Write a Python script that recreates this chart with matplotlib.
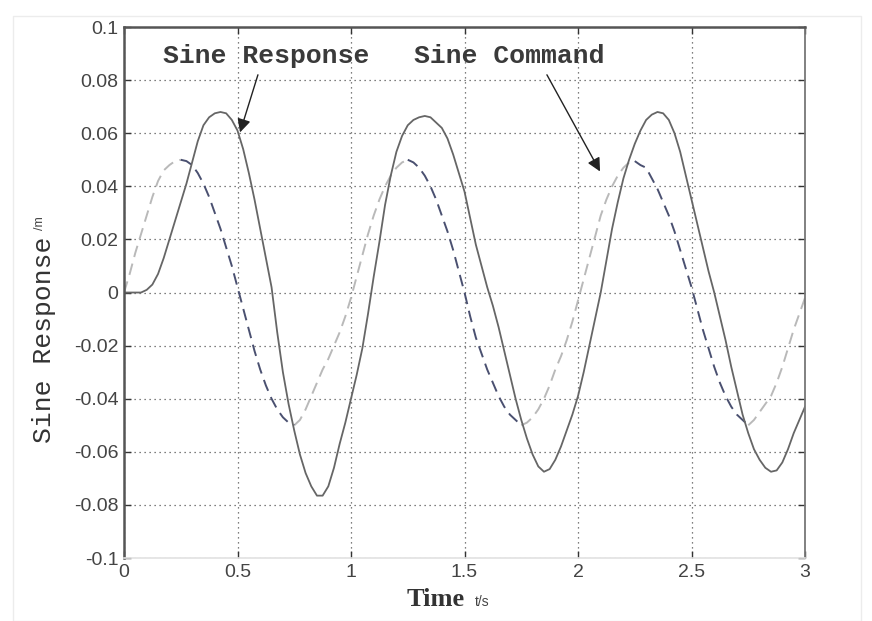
import matplotlib.pyplot as plt
from matplotlib.patches import Rectangle
import numpy as np

# time grid, 0.025 s steps
t = np.linspace(0, 3, 121)

response = [0.0, 0.0, 0.0, 0.0, 0.001, 0.003, 0.007, 0.013, 0.020, 0.027,
            0.034, 0.041, 0.049, 0.057, 0.063, 0.066, 0.0675, 0.068, 0.0675, 0.065,
            0.061, 0.054, 0.045, 0.035, 0.024, 0.013, 0.002, -0.015, -0.030, -0.042,
            -0.052, -0.061, -0.068, -0.073, -0.0765, -0.0765, -0.073, -0.066, -0.057, -0.049,
            -0.040, -0.031, -0.021, -0.008, 0.006, 0.019, 0.033, 0.044, 0.053, 0.059,
            0.063, 0.065, 0.066, 0.0665, 0.066, 0.064, 0.062, 0.058, 0.052, 0.045,
            0.038, 0.028, 0.018, 0.010, 0.002, -0.005, -0.013, -0.022, -0.031, -0.040,
            -0.048, -0.055, -0.061, -0.0655, -0.0675, -0.0665, -0.063, -0.058, -0.052, -0.046,
            -0.039, -0.030, -0.020, -0.010, 0.0, 0.012, 0.024, 0.034, 0.043, 0.050,
            0.056, 0.061, 0.065, 0.067, 0.068, 0.0675, 0.065, 0.060, 0.053, 0.044,
            0.035, 0.026, 0.017, 0.008, 0.0, -0.009, -0.018, -0.028, -0.037, -0.046,
            -0.053, -0.059, -0.063, -0.066, -0.0675, -0.067, -0.064, -0.059, -0.053, -0.048,
            -0.043]

command = [0.0, 0.007, 0.015, 0.022, 0.029, 0.036, 0.042, 0.046, 0.048, 0.0495,
           0.050, 0.0495, 0.048, 0.045, 0.041, 0.036, 0.030, 0.024, 0.017, 0.010,
           0.002, -0.006, -0.014, -0.022, -0.029, -0.035, -0.040, -0.044, -0.047, -0.049,
           -0.050, -0.048, -0.044, -0.039, -0.034, -0.029, -0.025, -0.020, -0.015, -0.009,
           -0.002, 0.006, 0.014, 0.022, 0.029, 0.035, 0.040, 0.044, 0.047, 0.049,
           0.050, 0.049, 0.047, 0.044, 0.040, 0.035, 0.029, 0.023, 0.016, 0.008,
           0.0, -0.009, -0.017, -0.023, -0.029, -0.034, -0.039, -0.043, -0.046, -0.048,
           -0.050, -0.049, -0.047, -0.044, -0.040, -0.035, -0.029, -0.024, -0.018, -0.011,
           -0.003, 0.005, 0.013, 0.021, 0.029, 0.035, 0.040, 0.044, 0.047, 0.049,
           0.0495, 0.048, 0.047, 0.043, 0.039, 0.034, 0.029, 0.023, 0.016, 0.009,
           0.002, -0.006, -0.014, -0.021, -0.028, -0.034, -0.039, -0.043, -0.046, -0.048,
           -0.050, -0.048, -0.045, -0.042, -0.039, -0.034, -0.028, -0.021, -0.014, -0.008,
           -0.002]

xticks = [0, 0.5, 1, 1.5, 2, 2.5, 3]
xticklabels = ['0', '0.5', '1', '1.5', '2', '2.5', '3']
yticks = [-0.1, -0.08, -0.06, -0.04, -0.02, 0, 0.02, 0.04, 0.06, 0.08, 0.1]
yticklabels = ['-0.1', '-0.08', '-0.06', '-0.04', '-0.02', '0', '0.02', '0.04', '0.06', '0.08', '0.1']

tick_font = ['Liberation Sans', 'DejaVu Sans']
mono = ['Liberation Mono', 'DejaVu Sans Mono']

fig = plt.figure(figsize=(8.72, 6.21), dpi=100)
fig.patches.append(Rectangle((0.015, 0.0), 0.972, 0.975, transform=fig.transFigure,
                             fill=False, edgecolor='#ececec', lw=1))
ax = fig.add_axes([0.1422, 0.1014, 0.781, 0.8551])

# command: light dashes on the rising parts, dark on the falling parts
cmd = np.array(command)
rising = np.diff(cmd) > 0
light_mask = np.r_[rising, False] | np.r_[False, rising]
dark_mask = np.r_[~rising, False] | np.r_[False, ~rising]
ax.plot(t, np.where(light_mask, cmd, np.nan), color='#b9b9b9', lw=1.4, dashes=(6, 3.5))
ax.plot(t, np.where(dark_mask, cmd, np.nan), color='#4a5070', lw=1.4, dashes=(6, 3.5))
ax.plot(t, response, color='#666666', lw=1.3)

ax.set_xlim(0, 3)
ax.set_ylim(-0.1, 0.1)
ax.set_xticks(xticks)
ax.set_xticklabels(xticklabels, family=tick_font, fontsize=14, color='#444444')
ax.set_yticks(yticks)
ax.set_yticklabels(yticklabels, family=tick_font, fontsize=14, color='#444444')
ax.tick_params(direction='in', top=True, right=True, length=5, width=1, color='#333333', pad=4)

ax.grid(True, linestyle=(0, (1, 3)), color='#555555', lw=0.9)

for side in ['left', 'top']:
    ax.spines[side].set_color('#555555')
    ax.spines[side].set_linewidth(1.8)
ax.spines['right'].set_color('#777777')
ax.spines['right'].set_linewidth(1.3)
ax.spines['bottom'].set_color('#e2e2e2')
ax.spines['bottom'].set_linewidth(1.2)

# axis labels (main word + small unit)
fig.text(0.050, 0.4525, 'Sine Response', rotation=90, family=mono, fontsize=19,
         ha='center', va='center', color='#333333')
fig.text(0.046, 0.641, '/m', rotation=90, family=tick_font, fontsize=9,
         ha='center', va='center', color='#444444')
fig.text(0.499, 0.035, 'Time', family=['Liberation Serif', 'DejaVu Serif'], fontsize=19,
         fontweight='bold', ha='center', va='center', color='#333333')
fig.text(0.553, 0.031, 't/s', family=tick_font, fontsize=10,
         ha='center', va='center', color='#444444')

arrow = dict(arrowstyle='-|>', color='#222222', lw=1.0, mutation_scale=20, shrinkA=0, shrinkB=0)
ax.annotate('Sine Response', xy=(0.511, 0.0603), xytext=(0.626, 0.0889),
            family=mono, fontsize=19, fontweight='bold', color='#3a3a3a', ha='center', va='center')
ax.annotate('', xy=(0.511, 0.0603), xytext=(0.59, 0.082), arrowprops=arrow)
ax.annotate('Sine Command', xy=(2.097, 0.0456), xytext=(1.696, 0.0889),
            family=mono, fontsize=19, fontweight='bold', color='#3a3a3a', ha='center', va='center')
ax.annotate('', xy=(2.097, 0.0456), xytext=(1.863, 0.082), arrowprops=arrow)

plt.savefig('out.png', dpi=100)
